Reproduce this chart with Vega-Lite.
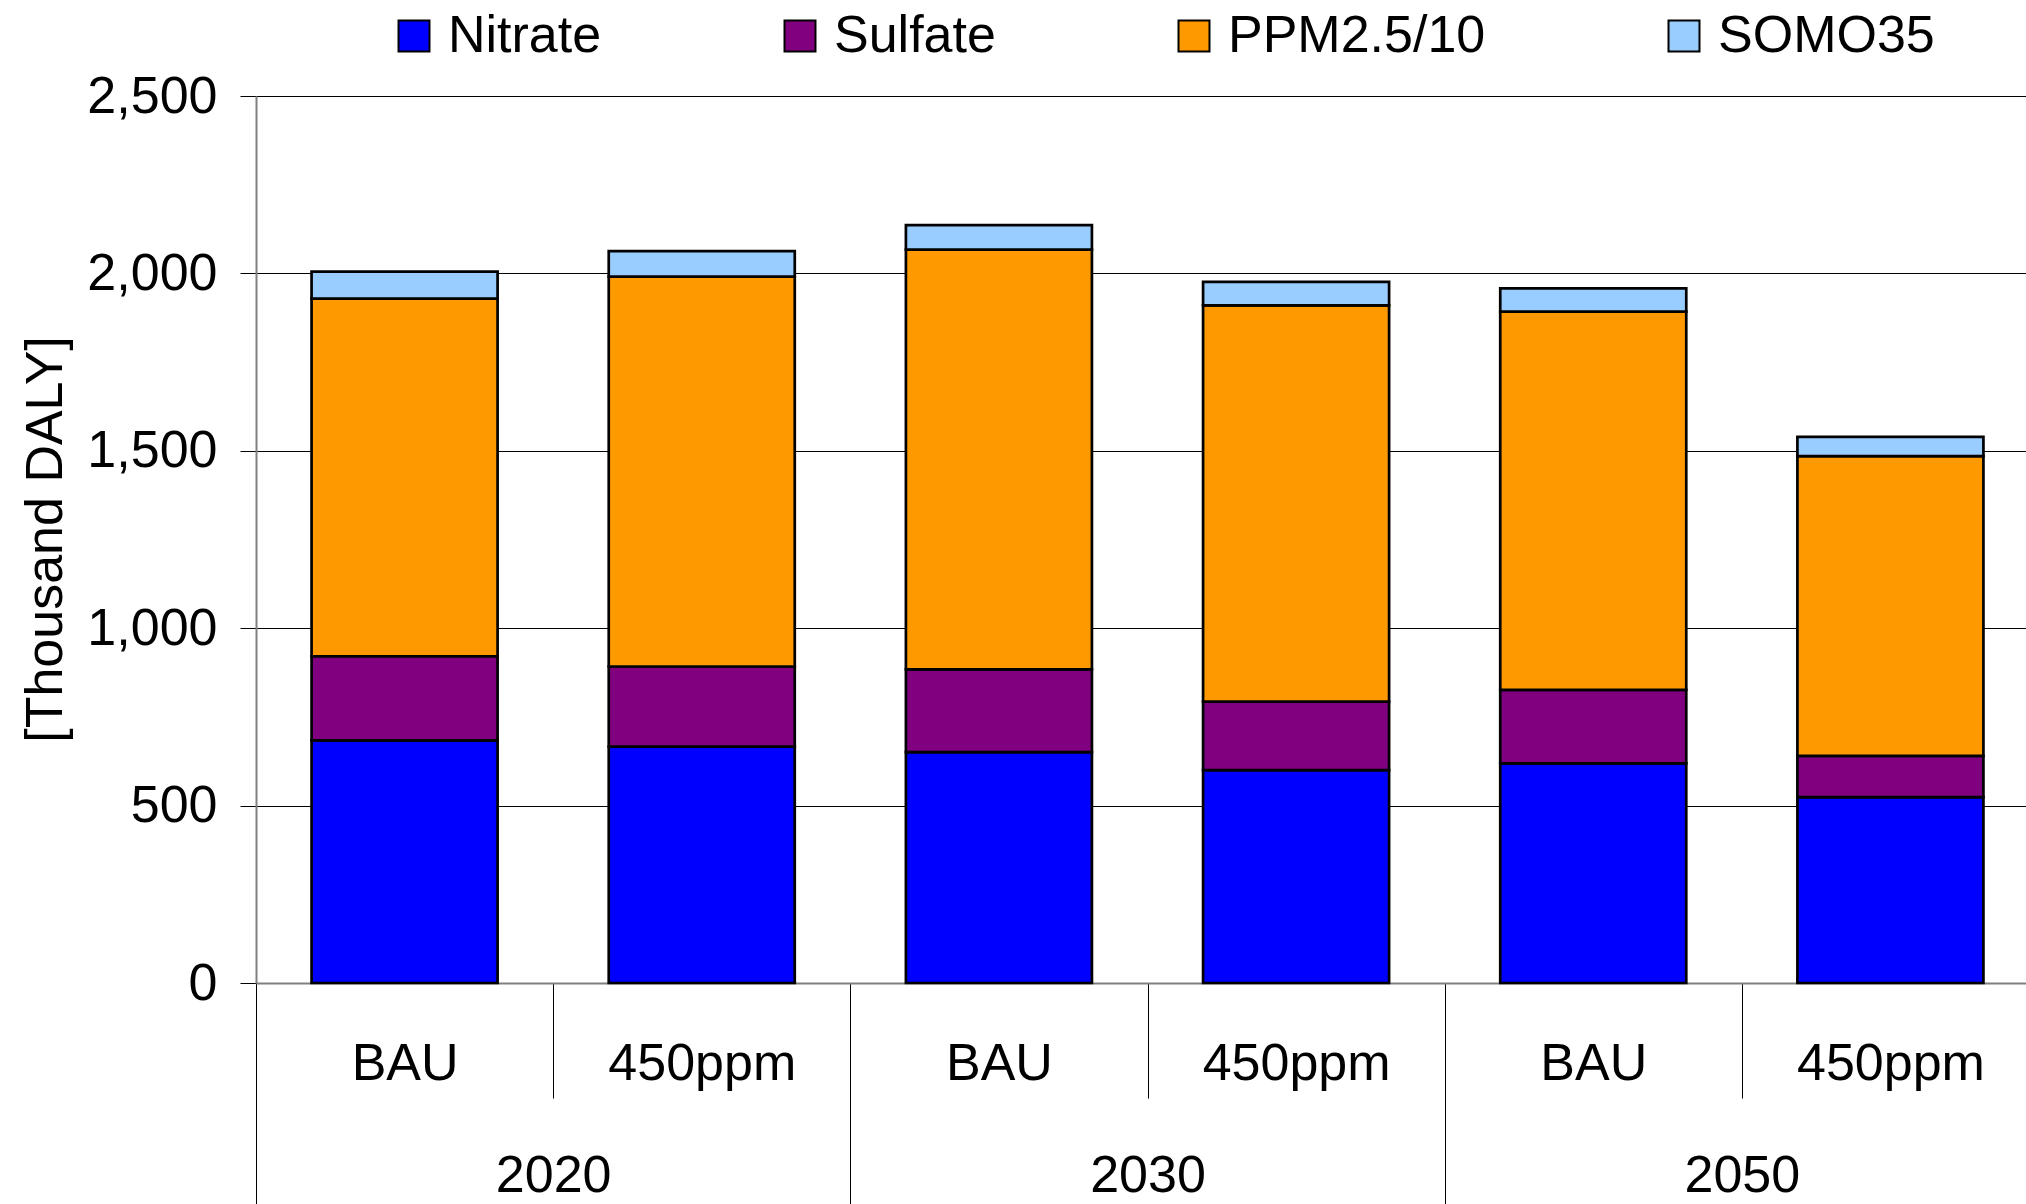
{
  "$schema": "https://vega.github.io/schema/vega-lite/v6.json",
  "autosize": {"type": "none"},
  "width": 1783,
  "height": 887,
  "padding": {"left": 256, "top": 96, "right": -13, "bottom": 221},
  "background": "white",
  "config": {
    "font": "Liberation Sans",
    "view": {"stroke": null},
    "axis": {"labelFont": "Liberation Sans", "titleFont": "Liberation Sans", "labelColor": "#000", "titleColor": "#000", "labelFontSize": 52, "titleFontSize": 52, "titleFontWeight": "normal", "labelLimit": 0},
    "legend": {"labelFont": "Liberation Sans", "labelFontSize": 52, "labelColor": "#000", "labelLimit": 0}
  },
  "data": {
    "values": [
      {"year": "2020", "scenario": "BAU", "key": "2020 BAU", "pollutant": "Nitrate", "o": 1, "value": 684},
      {"year": "2020", "scenario": "BAU", "key": "2020 BAU", "pollutant": "Sulfate", "o": 2, "value": 237},
      {"year": "2020", "scenario": "BAU", "key": "2020 BAU", "pollutant": "PPM2.5/10", "o": 3, "value": 1008},
      {"year": "2020", "scenario": "BAU", "key": "2020 BAU", "pollutant": "SOMO35", "o": 4, "value": 76},
      {"year": "2020", "scenario": "450ppm", "key": "2020 450ppm", "pollutant": "Nitrate", "o": 1, "value": 666},
      {"year": "2020", "scenario": "450ppm", "key": "2020 450ppm", "pollutant": "Sulfate", "o": 2, "value": 226},
      {"year": "2020", "scenario": "450ppm", "key": "2020 450ppm", "pollutant": "PPM2.5/10", "o": 3, "value": 1099},
      {"year": "2020", "scenario": "450ppm", "key": "2020 450ppm", "pollutant": "SOMO35", "o": 4, "value": 72},
      {"year": "2030", "scenario": "BAU", "key": "2030 BAU", "pollutant": "Nitrate", "o": 1, "value": 651},
      {"year": "2030", "scenario": "BAU", "key": "2030 BAU", "pollutant": "Sulfate", "o": 2, "value": 233},
      {"year": "2030", "scenario": "BAU", "key": "2030 BAU", "pollutant": "PPM2.5/10", "o": 3, "value": 1183},
      {"year": "2030", "scenario": "BAU", "key": "2030 BAU", "pollutant": "SOMO35", "o": 4, "value": 69},
      {"year": "2030", "scenario": "450ppm", "key": "2030 450ppm", "pollutant": "Nitrate", "o": 1, "value": 600},
      {"year": "2030", "scenario": "450ppm", "key": "2030 450ppm", "pollutant": "Sulfate", "o": 2, "value": 193},
      {"year": "2030", "scenario": "450ppm", "key": "2030 450ppm", "pollutant": "PPM2.5/10", "o": 3, "value": 1117},
      {"year": "2030", "scenario": "450ppm", "key": "2030 450ppm", "pollutant": "SOMO35", "o": 4, "value": 66},
      {"year": "2050", "scenario": "BAU", "key": "2050 BAU", "pollutant": "Nitrate", "o": 1, "value": 619},
      {"year": "2050", "scenario": "BAU", "key": "2050 BAU", "pollutant": "Sulfate", "o": 2, "value": 207},
      {"year": "2050", "scenario": "BAU", "key": "2050 BAU", "pollutant": "PPM2.5/10", "o": 3, "value": 1066},
      {"year": "2050", "scenario": "BAU", "key": "2050 BAU", "pollutant": "SOMO35", "o": 4, "value": 66},
      {"year": "2050", "scenario": "450ppm", "key": "2050 450ppm", "pollutant": "Nitrate", "o": 1, "value": 524},
      {"year": "2050", "scenario": "450ppm", "key": "2050 450ppm", "pollutant": "Sulfate", "o": 2, "value": 116},
      {"year": "2050", "scenario": "450ppm", "key": "2050 450ppm", "pollutant": "PPM2.5/10", "o": 3, "value": 845},
      {"year": "2050", "scenario": "450ppm", "key": "2050 450ppm", "pollutant": "SOMO35", "o": 4, "value": 54}
    ]
  },
  "layer": [
    {
      "mark": {"type": "rule", "opacity": 0},
      "encoding": {
        "x": {
          "field": "year", "type": "nominal",
          "scale": {"domain": ["2020", "2030", "2050"], "paddingInner": 0, "paddingOuter": 0},
          "axis": {"orient": "bottom", "title": null, "domain": false, "labelAngle": 0, "tickBand": "extent", "tickSize": 240, "tickColor": "#000", "tickWidth": 1, "labelBaseline": "middle", "labelPadding": -48}
        }
      }
    },
    {
      "mark": {"type": "bar", "width": {"band": 0.626}, "stroke": "#000", "strokeWidth": 2.7},
      "encoding": {
        "x": {
          "field": "key", "type": "nominal",
          "scale": {"domain": ["2020 BAU", "2020 450ppm", "2030 BAU", "2030 450ppm", "2050 BAU", "2050 450ppm"], "paddingInner": 0, "paddingOuter": 0},
          "axis": {"orient": "bottom", "title": null, "domainColor": "#808080", "domainWidth": 2, "labelAngle": 0, "labelExpr": "split(datum.label, ' ')[1]", "tickBand": "extent", "tickSize": 115, "tickColor": "#000", "tickWidth": 1, "labelBaseline": "middle", "labelPadding": -35}
        },
        "y": {
          "field": "value", "type": "quantitative", "aggregate": "sum", "stack": "zero",
          "scale": {"domain": [0, 2500], "nice": false},
          "axis": {"title": "[Thousand DALY]", "values": [0, 500, 1000, 1500, 2000, 2500], "format": ",d", "grid": true, "gridColor": "#000", "gridWidth": 1, "domainColor": "#808080", "domainWidth": 2, "tickColor": "#000", "tickSize": 16, "labelPadding": 23, "titleX": -211, "titleY": 443, "titleAngle": 270, "titleAlign": "center", "titleBaseline": "middle"}
        },
        "color": {
          "field": "pollutant", "type": "nominal",
          "scale": {"domain": ["Nitrate", "Sulfate", "PPM2.5/10", "SOMO35"], "range": ["#0000FF", "#800080", "#FF9900", "#99CCFF"]},
          "legend": {"title": null, "orient": "none", "direction": "horizontal", "legendX": 132, "legendY": -86, "padding": 0, "columnPadding": 172, "labelOffset": 8, "symbolType": "square", "symbolSize": 960, "symbolStrokeColor": "#000", "symbolStrokeWidth": 2, "symbolOpacity": 1}
        },
        "order": {"field": "o", "type": "quantitative"}
      }
    }
  ],
  "resolve": {"scale": {"x": "independent"}}
}
